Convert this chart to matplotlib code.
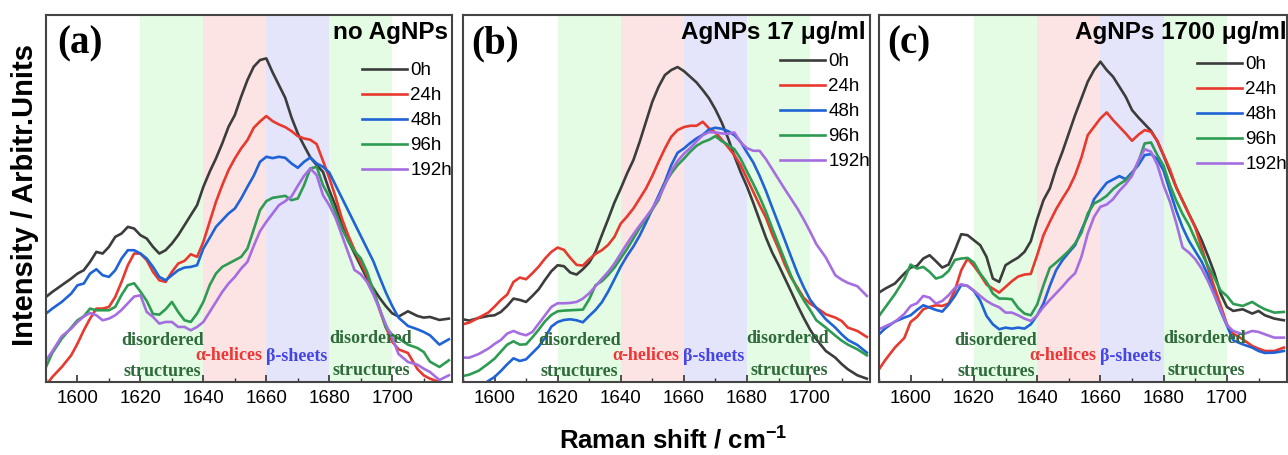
import matplotlib
matplotlib.use('Agg')
import matplotlib.pyplot as plt
from matplotlib.ticker import MultipleLocator

plt.rcParams['font.family'] = ['Liberation Sans', 'DejaVu Sans']
plt.rcParams['mathtext.fontset'] = 'custom'
plt.rcParams['mathtext.rm'] = 'Liberation Sans:bold'
plt.rcParams['mathtext.default'] = 'rm'

# Raman shift grid (cm-1), shared by all spectra
SHIFT = [1590, 1592, 1595, 1598] + list(range(1600, 1703, 2)) + [1705, 1708, 1710, 1712, 1715, 1718]

HOURS = ['0h', '24h', '48h', '96h', '192h']

# (a) no AgNPs
A_0H = [255, 270, 290, 310,
        325, 335, 360, 390, 385, 405, 435, 445, 465, 460,
        440, 430, 405, 385, 395, 415, 440, 470, 500, 530,
        585, 630, 670, 715, 765, 800, 855, 905, 945, 965,
        970, 928, 890, 852, 793, 745, 708, 673, 650, 630,
        575, 528, 470, 424, 386, 348, 310, 281, 252, 227,
        206, 196,
        212, 198, 193, 195, 186, 190]
A_24H = [-10, 15, 45, 80,
         115, 155, 190, 220, 220, 225, 255, 300, 350, 385,
         385, 365, 330, 305, 300, 330, 355, 363, 383, 375,
         420, 480, 540, 590, 635, 670, 700, 725, 762, 781,
         797, 782, 772, 764, 752, 737, 730, 726, 713, 663,
         612, 555, 490, 440, 396, 358, 320, 274, 216, 163,
         121, 98,
         87, 39, 20, 10, 0, -10]
A_48H = [205, 220, 240, 265,
         290, 295, 325, 338, 320, 315, 335, 370, 395, 395,
         385, 370, 345, 315, 305, 320, 335, 343, 345, 350,
         400, 432, 465, 485, 505, 520, 550, 585, 618, 660,
         675, 671, 675, 672, 655, 642, 660, 673, 655, 645,
         628, 590, 552, 514, 476, 438, 400, 362, 314, 268,
         228, 193,
         168, 158, 150, 140, 112, 128]
A_96H = [45, 87, 130, 163,
         185, 197, 220, 215, 215, 215, 225, 261, 290, 296,
         271, 243, 204, 202, 218, 240, 210, 185, 180, 205,
         240, 290, 325, 345, 355, 365, 375, 400, 457, 515,
         542, 552, 555, 558, 545, 550, 590, 640, 645, 590,
         555, 508, 460, 423, 392, 371, 330, 274, 220, 163,
         142, 131,
         112, 102, 90, 61, 45, 65]
A_192H = [65, 92, 137, 160,
          180, 196, 207, 200, 185, 190, 200, 216, 236, 256,
          260, 210, 195, 175, 180, 180, 165, 165, 155, 165,
          180, 210, 240, 270, 295, 315, 340, 360, 408, 452,
          480, 505, 530, 542, 556, 588, 618, 640, 620, 560,
          530, 492, 440, 388, 336, 323, 300, 262, 218, 172,
          133, 84,
          60, 52, 40, 30, 6, 20]

# (b) AgNPs 17 ug/ml
B_0H = [188, 184, 192, 198,
        200, 210, 228, 250, 246, 240, 258, 278, 306, 332,
        350, 347, 328, 322, 338, 358, 390, 440, 488, 538,
        580, 625, 665, 720, 780, 840, 885, 920, 935, 944,
        932, 915, 898, 875, 850, 817, 778, 731, 678, 629,
        586, 537, 485, 433, 388, 351, 311, 271, 230, 192,
        157, 128,
        93, 73, 54, 38, 20, 10]
B_24H = [173, 178, 193, 208,
         226, 246, 262, 300, 313, 308, 326, 346, 370, 390,
         403, 396, 372, 351, 349, 368, 384, 395, 411, 435,
         475, 496, 520, 550, 580, 618, 660, 700, 735, 755,
         764, 768, 768, 780, 760, 748, 727, 704, 680, 650,
         610, 570, 530, 493, 443, 400, 352, 313, 283, 252,
         235, 223,
         203, 193, 183, 163, 153, 135]
B_48H = [-45, -35, -16, 3,
         15, 33, 53, 71, 63, 68, 87, 106, 133, 166,
         180, 186, 188, 185, 179, 198, 216, 239, 271, 308,
         346, 378, 406, 439, 478, 518, 559, 600, 650, 687,
         700, 716, 730, 741, 757, 762, 759, 752, 740, 720,
         688, 658, 618, 573, 523, 474, 425, 375, 326, 284,
         247, 222,
         188, 163, 143, 126, 111, 88]
B_96H = [18, 22, 34, 55,
         70, 91, 112, 122, 112, 113, 134, 157, 182, 201,
         212, 214, 215, 216, 217, 248, 290, 302, 321, 343,
         371, 399, 430, 462, 490, 517, 546, 595, 625, 650,
         669, 690, 708, 719, 726, 737, 722, 711, 698, 669,
         631, 594, 555, 511, 461, 413, 365, 318, 278, 245,
         216, 185,
         163, 139, 124, 112, 98, 80]
B_192H = [73, 73, 84, 100,
          114, 126, 145, 153, 145, 140, 150, 175, 200, 225,
          236, 236, 237, 240, 250, 266, 287, 309, 330, 355,
          385, 415, 443, 469, 494, 520, 552, 590, 633, 662,
          684, 701, 721, 740, 749, 748, 745, 744, 748, 718,
          701, 693, 693, 668, 638, 608, 578, 549, 520, 487,
          451, 413,
          373, 320, 307, 297, 287, 258]

# (c) AgNPs 1700 ug/ml
C_0H = [268, 280, 295, 325,
        343, 348, 370, 380, 362, 343, 352, 395, 443, 440,
        425, 410, 375, 310, 300, 350, 362, 373, 390, 422,
        488, 545, 580, 640, 690, 745, 800, 850, 900, 935,
        960, 935, 915, 885, 855, 815, 793, 773, 753, 722,
        678, 630, 583, 543, 503, 465, 425, 378, 328, 265,
        225, 213,
        218, 205, 213, 200, 190, 185]
C_24H = [38, 66, 103, 132,
         180, 195, 218, 225, 230, 228, 235, 275, 335, 370,
         348, 322, 292, 280, 268, 285, 302, 316, 322, 324,
         380, 440, 480, 518, 550, 580, 620, 673, 740, 765,
         790, 808, 785, 765, 745, 723, 741, 755, 750, 723,
         680, 637, 583, 543, 503, 463, 403, 343, 285, 230,
         173, 145,
         128, 108, 100, 93, 93, 103]
C_48H = [143, 161, 181, 193,
         200, 216, 230, 223, 216, 211, 232, 258, 291, 288,
         273, 244, 198, 173, 158, 163, 160, 163, 160, 173,
         200, 235, 288, 335, 365, 388, 410, 455, 498, 548,
         573, 597, 607, 617, 608, 628, 650, 680, 683, 668,
         633, 572, 513, 463, 423, 392, 361, 321, 263, 213,
         169, 125,
         113, 103, 93, 87, 88, 93]
C_96H = [198, 224, 263, 308,
         352, 340, 345, 330, 310, 316, 333, 366, 370, 372,
         358, 325, 300, 265, 250, 250, 248, 222, 205, 200,
         232, 290, 342, 358, 375, 393, 415, 447, 505, 535,
         545, 558, 578, 593, 605, 622, 660, 715, 718, 680,
         648, 590, 543, 503, 470, 428, 387, 348, 313, 274,
         258, 234,
         228, 240, 228, 218, 208, 210]
C_192H = [158, 167, 180, 204,
          228, 236, 258, 253, 235, 243, 260, 282, 293, 288,
          274, 258, 243, 232, 224, 208, 208, 200, 190, 183,
          200, 225, 246, 266, 286, 308, 326, 375, 445, 495,
          525, 532, 548, 573, 593, 618, 663, 698, 690, 651,
          589, 540, 476, 403, 388, 368, 340, 303, 260, 218,
          170, 153,
          143, 153, 150, 143, 133, 133]

LINE_COLORS = ['#3c3c3c', '#e8392f', '#1f63d6', '#2e9b52', '#a56ee0']
BANDS = [(1620, 1640, '#e4fce4'), (1640, 1660, '#fce4e4'),
         (1660, 1680, '#e4e4fb'), (1680, 1700, '#e4fce4')]
GREEN_TXT = '#2f6b3a'


def draw_panel(ax, spectra, letter, title, legend_y, letter_x, title_x):
    for x0, x1, c in BANDS:
        ax.axvspan(x0, x1, color=c, lw=0, zorder=0)
    for ys, c, lab in zip(spectra, LINE_COLORS, HOURS):
        ax.plot(SHIFT, ys, color=c, lw=1.9, label=lab, zorder=2)

    ax.set_xlim(1590, 1719)
    ax.set_ylim(0, 1100)
    ax.set_yticks([])
    ax.xaxis.set_major_locator(MultipleLocator(20))
    ax.xaxis.set_minor_locator(MultipleLocator(10))
    ax.tick_params(axis='x', which='major', direction='in', length=5, width=1.2,
                   labelsize=13.5, pad=6, colors='#333333', labelcolor='black')
    ax.tick_params(axis='x', which='minor', direction='in', length=3, width=1.0, colors='#333333')
    for sp in ax.spines.values():
        sp.set_color('#444444')
        sp.set_linewidth(1.5)

    ax.text(letter_x, 0.921, letter, transform=ax.transAxes, ha='left', va='center',
            fontsize=28, fontweight='bold', family='Liberation Serif')
    ax.text(title_x, 0.951, title, transform=ax.transAxes, ha='right', va='center',
            fontsize=17.5, fontweight='bold')

    serif = dict(family='Liberation Serif', fontweight='bold', fontsize=13,
                 ha='center', va='center', zorder=3)
    ax.text(1627, 125, 'disordered', color=GREEN_TXT, **serif)
    ax.text(1627, 30, 'structures', color=GREEN_TXT, **serif)
    ax.text(1648, 78, 'α-helices', color='#f03535', **serif)
    ax.text(1669.5, 76, 'β-sheets', color='#4545e6', **serif)
    ax.text(1693, 130, 'disordered', color=GREEN_TXT, **serif)
    ax.text(1693.5, 35, 'structures', color=GREEN_TXT, **serif)

    ax.legend(loc='upper right', bbox_to_anchor=(1.0, legend_y), frameon=False,
              fontsize=13.5, handlelength=2.4, handletextpad=0.2, labelspacing=0.42,
              borderaxespad=0, borderpad=0)


fig = plt.figure(figsize=(12.88, 4.55), dpi=100)
bottom = 1 - 382 / 455
height = 367 / 455
ax_a = fig.add_axes([46 / 1288, bottom, 406 / 1288, height])
ax_b = fig.add_axes([463 / 1288, bottom, 407 / 1288, height])
ax_c = fig.add_axes([879 / 1288, bottom, 408 / 1288, height])

draw_panel(ax_a, [A_0H, A_24H, A_48H, A_96H, A_192H], '(a)', 'no AgNPs', 0.872, 0.027, 0.99)
draw_panel(ax_b, [B_0H, B_24H, B_48H, B_96H, B_192H], '(b)', 'AgNPs 17 μg/ml', 0.896, 0.021, 0.99)
draw_panel(ax_c, [C_0H, C_24H, C_48H, C_96H, C_192H], '(c)', 'AgNPs 1700 μg/ml', 0.888, 0.019, 0.998)

fig.text(673 / 1288, 1 - 441 / 455, 'Raman shift / cm$^{-1}$', ha='center', va='center',
         fontsize=18.5, fontweight='bold')
fig.text(25 / 1288, 1 - 195 / 455, 'Intensity / Arbitr.Units', rotation=90, ha='center',
         va='center', fontsize=21, fontweight='bold')

fig.savefig('out.png', dpi=100)
